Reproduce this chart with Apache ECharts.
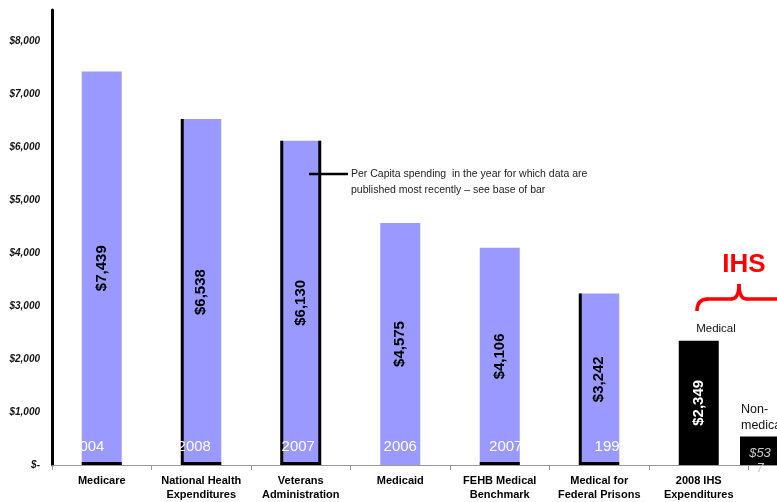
<!DOCTYPE html>
<html>
<head>
<meta charset="utf-8">
<script src="https://cdn.jsdelivr.net/npm/echarts@6/dist/echarts.min.js"></script>
<style>html,body{margin:0;padding:0;background:#fff}#c{width:777px;height:502px}</style>
</head>
<body>
<div id="c"></div>
<script>
// ---- data ----
const categories = ['Medicare', 'National Health\nExpenditures', 'Veterans\nAdministration', 'Medicaid', 'FEHB Medical\nBenchmark', 'Medical for\nFederal Prisons', '2008 IHS\nExpenditures'];
const perCapita = [7439, 6538, 6130, 4575, 4106, 3242, 2349];
const dataYears = ['2004', '2008', '2007', '2006', '2007', '1997'];
const ihsNonMedical = [null, null, null, null, null, null, 537];
const yMin = 0, yMax = 8600, yStep = 1000;
const noteLines = ['Per Capita spending  in the year for which data are', 'published most recently \u2013 see base of bar'];

// ---- styling (kept apart from data) ----
const yearShift = [-14, -7, -2.5, 0, 6, 12];
const barEdges = ['b', 'lb', 'lrb', '', 'b', 'lb', ''];
const IHS_INDEX = 6;
const sans = '"Liberation Sans", Arial, sans-serif';

const fmt = v => '$' + Number(v).toLocaleString('en-US');

const chart = echarts.init(document.getElementById('c'), null, {renderer: 'canvas'});

const red = '#ff0000';
const option = {
  animation: false,
  backgroundColor: '#fff',
  grid: [
    {left: 52, width: 696.5, top: 10, bottom: 37, outerBoundsMode: 'none', containLabel: false},
    {left: 113.25, width: 696.5, top: 10, bottom: 37, outerBoundsMode: 'none', containLabel: false}
  ],
  xAxis: [
    {
      gridIndex: 0, type: 'category', data: categories,
      axisLine: {lineStyle: {color: '#9a9a9a', width: 1}},
      axisTick: {show: true, length: 5, lineStyle: {color: '#9a9a9a'}},
      axisLabel: {interval: 0, margin: 9, color: '#000', fontWeight: 'bold', fontSize: 11, lineHeight: 14, fontFamily: sans},
      splitLine: {show: false}
    },
    {
      gridIndex: 1, type: 'category', data: categories,
      axisLine: {lineStyle: {color: '#9a9a9a', width: 1}},
      axisTick: {show: false}, axisLabel: {show: false}, splitLine: {show: false}
    }
  ],
  yAxis: [
    {
      gridIndex: 0, type: 'value', min: yMin, max: yMax, interval: yStep,
      axisLine: {show: true, lineStyle: {color: '#000', width: 3}},
      axisTick: {show: false},
      splitLine: {show: false},
      axisLabel: {
        showMaxLabel: false, margin: 12, color: '#111', fontStyle: 'italic', fontWeight: 'bold', fontSize: 10, fontFamily: sans,
        formatter: v => (v % yStep !== 0 ? '' : (v === 0 ? '$-' : fmt(v)))
      }
    },
    {gridIndex: 1, type: 'value', min: yMin, max: yMax, show: false}
  ],
  series: [
    {
      type: 'bar', xAxisIndex: 0, yAxisIndex: 0, barWidth: 40,
      data: perCapita.map((v, i) => ({
        value: v,
        itemStyle: {color: i === IHS_INDEX ? '#000' : '#9999ff'},
        label: {color: i === IHS_INDEX ? '#fff' : '#000'}
      })),
      label: {
        show: true, position: 'inside', rotate: 90,
        fontWeight: 'bold', fontSize: 15, fontFamily: sans,
        formatter: p => fmt(p.value)
      }
    },
    {
      type: 'custom', xAxisIndex: 0, yAxisIndex: 0, silent: true, z: 5,
      data: perCapita.map((v, i) => [i, v]),
      renderItem: function (params, api) {
        const i = api.value(0);
        const top = api.coord([i, api.value(1)]);
        const base = api.coord([i, 0]);
        const half = 20;
        const e = barEdges[i] || '';
        const ln = (x1, y1, x2, y2) => ({type: 'line', shape: {x1, y1, x2, y2}, style: {stroke: '#000', lineWidth: 3}});
        const ch = [];
        if (e.indexOf('l') >= 0) ch.push(ln(top[0] - half + 1, top[1], top[0] - half + 1, base[1]));
        if (e.indexOf('r') >= 0) ch.push(ln(top[0] + half - 1, top[1], top[0] + half - 1, base[1]));
        if (e.indexOf('b') >= 0) ch.push(ln(top[0] - half, base[1] - 1.5, top[0] + half, base[1] - 1.5));
        if (dataYears[i]) {
          ch.push({type: 'text', style: {
            text: dataYears[i], x: top[0] + yearShift[i], y: base[1] - 18,
            align: 'center', verticalAlign: 'middle', fill: '#fff', font: '15px ' + sans
          }});
        }
        return {type: 'group', children: ch};
      }
    },
    {
      type: 'bar', xAxisIndex: 1, yAxisIndex: 1, barWidth: 40,
      data: ihsNonMedical,
      itemStyle: {color: '#000'},
      label: {
        show: true, position: 'insideTop', distance: 9,
        color: '#c8c8c8', fontStyle: 'italic', fontSize: 13, fontFamily: sans,
        width: 27, overflow: 'breakAll', lineHeight: 15,
        formatter: p => fmt(p.value)
      }
    }
  ],
  graphic: [
    {type: 'line', z: 100, shape: {x1: 309, y1: 174, x2: 348, y2: 174}, style: {stroke: '#000', lineWidth: 2.5}},
    {type: 'text', z: 100, x: 351, y: 174, style: {text: noteLines[0], font: '10.5px ' + sans, fill: '#222', verticalAlign: 'middle'}},
    {type: 'text', z: 100, x: 351, y: 190, style: {text: noteLines[1], font: '10.5px ' + sans, fill: '#222', verticalAlign: 'middle'}},
    {type: 'text', z: 100, x: 716, y: 329, style: {text: 'Medical', font: '11.5px ' + sans, fill: '#111', align: 'center', verticalAlign: 'middle'}},
    {type: 'text', z: 100, x: 741, y: 410, style: {text: 'Non-', font: '12.5px ' + sans, fill: '#111', verticalAlign: 'middle'}},
    {type: 'text', z: 100, x: 741, y: 426, style: {text: 'medical', font: '12.5px ' + sans, fill: '#111', verticalAlign: 'middle'}},
    {type: 'text', z: 100, x: 744, y: 265, style: {text: 'IHS', font: 'bold 26px ' + sans, fill: red, align: 'center', verticalAlign: 'middle'}},
    {type: 'bezierCurve', z: 100, shape: {x1: 697, y1: 311, cpx1: 697, cpy1: 299, x2: 708, y2: 299}, style: {stroke: red, lineWidth: 3.5, fill: null}},
    {type: 'line', z: 100, shape: {x1: 707, y1: 299, x2: 732, y2: 299}, style: {stroke: red, lineWidth: 3.5}},
    {type: 'bezierCurve', z: 100, shape: {x1: 731, y1: 299, cpx1: 739, cpy1: 299, x2: 739, y2: 284}, style: {stroke: red, lineWidth: 3.5, fill: null}},
    {type: 'bezierCurve', z: 100, shape: {x1: 739, y1: 284, cpx1: 739, cpy1: 299, x2: 747, y2: 299}, style: {stroke: red, lineWidth: 3.5, fill: null}},
    {type: 'line', z: 100, shape: {x1: 746, y1: 299, x2: 780, y2: 299}, style: {stroke: red, lineWidth: 3.5}}
  ]
};
chart.setOption(option);
</script>
</body>
</html>
